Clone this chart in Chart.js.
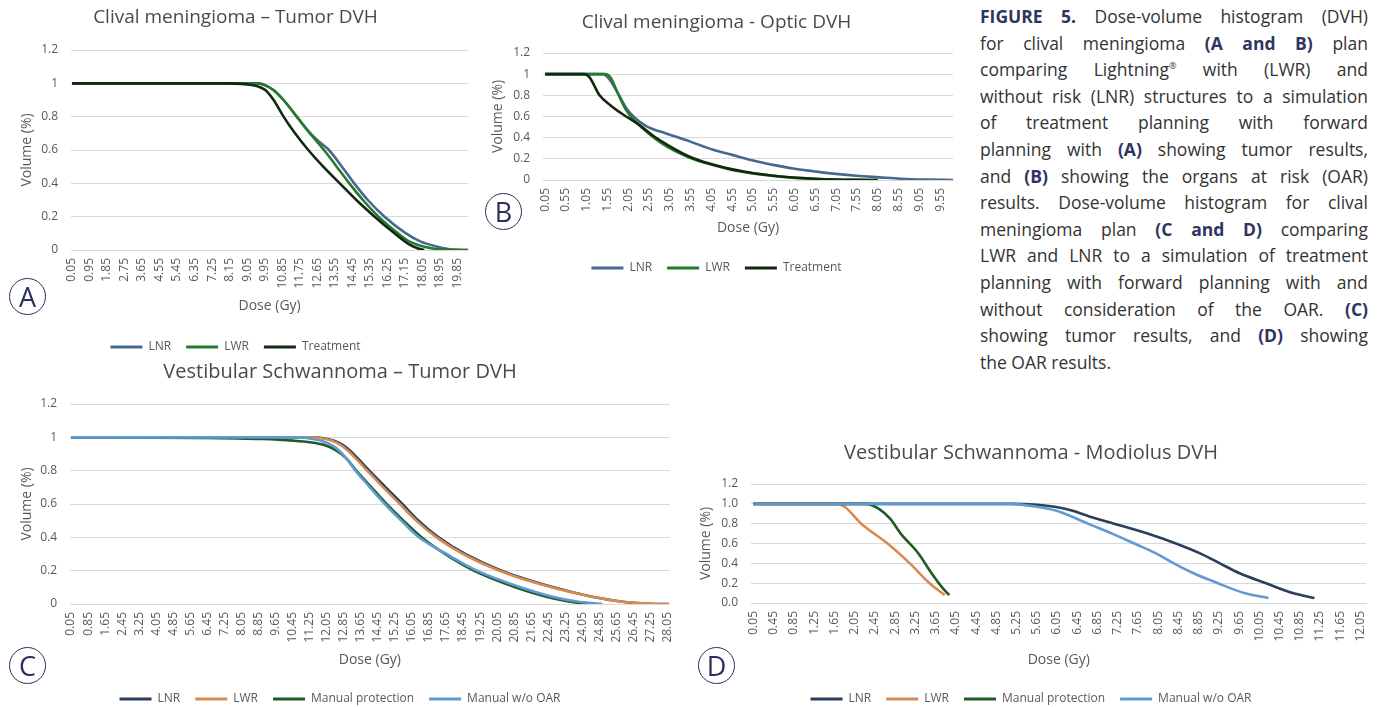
<!DOCTYPE html>
<html>
<head>
<meta charset="utf-8">
<title>Figure 5 - DVH</title>
<script src="https://cdn.jsdelivr.net/npm/chart.js@4.4.1/dist/chart.umd.min.js"></script>
<style>
  html, body { margin: 0; padding: 0; overflow: hidden; background: #fff; }
  body { position: relative; width: 1383px; height: 707px; }
  canvas { position: absolute; }
  .tag {
    position: absolute; width: 35px; height: 35px; border: 1.4px solid #2c2f5c; border-radius: 50%;
    color: #2c2f5c; font: 27px 'Open Sans', sans-serif; text-align: center; line-height: 35px;
  }
  .caption { position: absolute; left: 980px; top: 3px; width: 388px; font: 17.5px 'Open Sans', sans-serif; color: #333; }
  .caption div { white-space: nowrap; height: 26.6px; line-height: 26.6px; }
  .caption b { color: #2e3561; }
  .caption sup { font-size: 9px; line-height: 0; }
</style>
</head>
<body>
<canvas id="chartA" width="480" height="363" style="left:0;top:0"></canvas>
<canvas id="chartB" width="490" height="284" style="left:480px;top:0"></canvas>
<canvas id="chartC" width="690" height="365" style="left:0;top:350px"></canvas>
<canvas id="chartD" width="693" height="285" style="left:690px;top:430px"></canvas>

<div class="tag" style="left:9px;top:278px">A</div>
<div class="tag" style="left:485px;top:193px">B</div>
<div class="tag" style="left:9px;top:647px">C</div>
<div class="tag" style="left:698px;top:647px">D</div>

<div class="caption">
<div><span><b>FIGURE 5.</b> Dose-volume histogram (DVH)</span></div>
<div><span>for clival meningioma <b>(A and B)</b> plan</span></div>
<div><span>comparing Lightning<sup>®</sup> with (LWR) and</span></div>
<div><span>without risk (LNR) structures to a simulation</span></div>
<div><span>of treatment planning with forward</span></div>
<div><span>planning with <b>(A)</b> showing tumor results,</span></div>
<div><span>and <b>(B)</b> showing the organs at risk (OAR)</span></div>
<div><span>results. Dose-volume histogram for clival</span></div>
<div><span>meningioma plan <b>(C and D)</b> comparing</span></div>
<div><span>LWR and LNR to a simulation of treatment</span></div>
<div><span>planning with forward planning with and</span></div>
<div><span>without consideration of the OAR. <b>(C)</b></span></div>
<div><span>showing tumor results, and <b>(D)</b> showing</span></div>
<div><span>the OAR results.</span></div>
</div>

<script>
// tick labels of the dose axes
const doseTicksA = [0.05, 0.95, 1.85, 2.75, 3.65, 4.55, 5.45, 6.35, 7.25, 8.15, 9.05, 9.95, 10.85, 11.75,
  12.65, 13.55, 14.45, 15.35, 16.25, 17.15, 18.05, 18.95, 19.85];
const doseTicksB = [0.05, 0.55, 1.05, 1.55, 2.05, 2.55, 3.05, 3.55, 4.05, 4.55, 5.05, 5.55, 6.05, 6.55,
  7.05, 7.55, 8.05, 8.55, 9.05, 9.55];
const doseTicksC = [0.05, 0.85, 1.65, 2.45, 3.25, 4.05, 4.85, 5.65, 6.45, 7.25, 8.05, 8.85, 9.65, 10.45,
  11.25, 12.05, 12.85, 13.65, 14.45, 15.25, 16.05, 16.85, 17.65, 18.45, 19.25, 20.05, 20.85, 21.65,
  22.45, 23.25, 24.05, 24.85, 25.65, 26.45, 27.25, 28.05];
const doseTicksD = [0.05, 0.45, 0.85, 1.25, 1.65, 2.05, 2.45, 2.85, 3.25, 3.65, 4.05, 4.45, 4.85, 5.25,
  5.65, 6.05, 6.45, 6.85, 7.25, 7.65, 8.05, 8.45, 8.85, 9.25, 9.65, 10.05, 10.45, 10.85, 11.25, 11.65, 12.05];

// [dose (Gy), volume]
// A - clival meningioma, tumor
const clivalTumorLNR = [[0.05, 1], [9.5, 1], [9.85, 0.995], [10.4, 0.96], [10.92, 0.9], [11.6, 0.8], [12.25, 0.705],
  [12.75, 0.65], [13.25, 0.6], [13.92, 0.5], [14.55, 0.4], [15.25, 0.3], [16.11, 0.2], [17.21, 0.1],
  [17.97, 0.05], [18.83, 0.02], [19.68, 0.002], [20.4, 0]];
const clivalTumorLWR = [[0.05, 1], [9.5, 1], [9.85, 0.995], [10.4, 0.96], [10.92, 0.9], [11.6, 0.8], [12.28, 0.7],
  [13.0, 0.6], [13.65, 0.5], [14.3, 0.4], [15.0, 0.3], [15.8, 0.2], [16.8, 0.1], [17.4, 0.05], [18.15, 0.02],
  [19.17, 0.002], [20.4, 0]];
const clivalTumorTreatment = [[0.05, 1], [8.0, 1], [9.3, 0.99], [9.98, 0.96], [10.41, 0.9], [10.92, 0.8],
  [11.51, 0.7], [12.19, 0.6], [12.96, 0.5], [13.81, 0.4], [14.66, 0.3], [15.6, 0.2], [16.62, 0.1],
  [17.29, 0.04], [17.8, 0.01], [18.15, 0]];

// B - clival meningioma, optic apparatus
const clivalOpticLNR = [[0.05, 1], [1.45, 1], [1.6, 0.95], [1.8, 0.82], [2.0, 0.68], [2.2, 0.59], [2.48, 0.51],
  [2.96, 0.44], [3.53, 0.365], [4.09, 0.285], [4.57, 0.235], [5.05, 0.184], [5.53, 0.143], [6.02, 0.108],
  [6.5, 0.083], [6.98, 0.06], [7.54, 0.04], [8.1, 0.025], [8.6, 0.012], [9.2, 0.004], [9.86, 0]];
const clivalOpticLWR = [[0.05, 1], [1.5, 1], [1.62, 0.97], [1.8, 0.82], [2.0, 0.66], [2.2, 0.56], [2.45, 0.47],
  [2.7, 0.39], [3.0, 0.31], [3.5, 0.215], [4.0, 0.15], [4.5, 0.1], [5.0, 0.065], [5.5, 0.04], [6.0, 0.022],
  [6.5, 0.012], [7.0, 0.005], [7.5, 0.002], [8.05, 0]];
const clivalOpticTreatment = [[0.05, 1], [1.0, 1], [1.12, 0.97], [1.36, 0.8], [1.64, 0.7], [2.0, 0.6], [2.32, 0.52],
  [2.64, 0.42], [3.0, 0.33], [3.5, 0.225], [4.0, 0.155], [4.5, 0.105], [5.0, 0.068], [5.5, 0.042], [6.0, 0.023],
  [6.5, 0.012], [7.0, 0.005], [7.5, 0.002], [8.05, 0]];

// C - vestibular schwannoma, tumor
const schwannomaTumorLNR = [[0.05, 1], [11.4, 1], [11.9, 0.995], [12.4, 0.98], [12.8, 0.955], [13.15, 0.92],
  [13.5, 0.875], [14.05, 0.8], [14.82, 0.7], [15.6, 0.6], [16.36, 0.5], [17.3, 0.4], [18.55, 0.3],
  [20.25, 0.2], [22.7, 0.1], [24.45, 0.045], [25.6, 0.02], [26.6, 0.005], [27.4, 0], [28.1, 0]];
const schwannomaTumorLWR = [[0.05, 1], [11.3, 1], [11.8, 0.995], [12.3, 0.98], [12.7, 0.955], [13.05, 0.92],
  [13.4, 0.875], [13.95, 0.8], [14.7, 0.7], [15.48, 0.6], [16.25, 0.5], [17.2, 0.4], [18.45, 0.3],
  [20.15, 0.2], [22.6, 0.1], [24.45, 0.045], [25.6, 0.02], [26.7, 0.005], [27.6, 0], [28.1, 0]];
const schwannomaTumorManual = [[0.05, 1], [6.0, 0.997], [9.0, 0.99], [10.5, 0.98], [11.3, 0.97], [11.9, 0.955],
  [12.45, 0.925], [12.97, 0.874], [13.44, 0.8], [14.15, 0.7], [14.86, 0.6], [15.65, 0.5], [16.5, 0.4],
  [17.6, 0.3], [18.95, 0.2], [20.9, 0.1], [22.3, 0.045], [23.4, 0.015], [24.3, 0]];
const schwannomaTumorNoOar = [[0.05, 1], [10.8, 1], [11.4, 0.99], [11.9, 0.975], [12.45, 0.94], [12.97, 0.874],
  [13.4, 0.8], [14.08, 0.7], [14.78, 0.6], [15.55, 0.5], [16.38, 0.4], [17.67, 0.3], [19.1, 0.2],
  [21.15, 0.1], [22.6, 0.045], [23.8, 0.015], [25.0, 0]];

// D - vestibular schwannoma, modiolus
const modiolusLNR = [[0.05, 1], [5.2, 1], [5.66, 0.99], [6.0, 0.97], [6.36, 0.93], [6.7, 0.87], [7.18, 0.8],
  [7.84, 0.7], [8.4, 0.6], [8.88, 0.5], [9.27, 0.4], [9.66, 0.3], [10.18, 0.2], [10.71, 0.1], [11.14, 0.05]];
const modiolusLWR = [[0.05, 1], [1.7, 1], [1.85, 0.97], [2.18, 0.8], [2.7, 0.6], [3.14, 0.4], [3.53, 0.2], [3.83, 0.08]];
const modiolusManual = [[0.05, 1], [2.27, 1], [2.53, 0.95], [2.75, 0.85], [2.96, 0.7], [3.31, 0.5], [3.57, 0.3],
  [3.79, 0.15], [3.92, 0.08]];
const modiolusNoOar = [[0.05, 1], [5.1, 1], [5.66, 0.97], [6.1, 0.92], [6.66, 0.8], [7.14, 0.7], [7.58, 0.6],
  [8.01, 0.5], [8.36, 0.4], [8.75, 0.3], [9.23, 0.2], [9.75, 0.1], [10.23, 0.05]];

const GREY = '#595959';
Chart.defaults.font.family = "'Open Sans', sans-serif";
Chart.defaults.color = GREY;

function drawDvh(id, geo, ticks, series) {
  const legendPad = 15;
  const legendTop = geo.height - (22 + legendPad);
  const titleLine = geo.titleSize * 1.2;
  const axisSize = 14;
  const axisLine = axisSize * 1.2;

  new Chart(document.getElementById(id), {
    type: 'line',
    data: {
      datasets: series.map((s, i) => ({
        label: s.label,
        data: s.points.map(p => ({ x: p[0], y: p[1] })),
        borderColor: s.color,
        backgroundColor: s.color,
        borderWidth: 2.6,
        pointRadius: 0,
        cubicInterpolationMode: 'monotone',
        order: series.length - i   // later series drawn on top, like Excel
      }))
    },
    options: {
      responsive: false,
      animation: false,
      devicePixelRatio: 1,
      layout: { padding: { left: 0, top: 0, bottom: 0, right: geo.width - geo.plotRight } },
      plugins: {
        title: {
          display: true, text: geo.title, color: '#4a4a4a',
          font: { size: geo.titleSize, weight: 'normal' },
          padding: { top: geo.titleY - titleLine / 2, bottom: geo.plotTop - geo.titleY - titleLine / 2 }
        },
        legend: {
          position: 'bottom',
          reverse: true,
          labels: {
            boxWidth: 32, boxHeight: 3, padding: legendPad, color: GREY, font: { size: 12 },
            generateLabels: chart => Chart.defaults.plugins.legend.labels.generateLabels(chart)
              .map(item => Object.assign(item, { lineWidth: 0 }))
          }
        },
        tooltip: { enabled: false }
      },
      scales: {
        x: {
          type: 'linear', min: 0, max: geo.xMax,
          afterBuildTicks: scale => { scale.ticks = ticks.map(v => ({ value: v })); },
          afterFit: scale => { scale.height = legendTop - geo.plotBottom; },
          grid: { display: false, drawTicks: false },
          border: { color: '#d9d9d9' },
          ticks: {
            autoSkip: false, maxRotation: 90, minRotation: 90, padding: 8, color: GREY,
            font: { size: 12 }, callback: v => v.toFixed(2)
          },
          title: {
            display: true, text: 'Dose (Gy)', color: GREY, font: { size: axisSize },
            padding: { top: 0, bottom: legendTop - axisLine / 2 - geo.doseTitleY }
          }
        },
        y: {
          min: 0, max: 1.2,
          afterFit: scale => { scale.width = geo.plotLeft; },
          grid: { color: '#d9d9d9', drawTicks: false },
          border: { display: false },
          ticks: {
            stepSize: 0.2, padding: geo.plotLeft - geo.yLabelRight, color: GREY, font: { size: 12 },
            callback: v => geo.fixedY ? v.toFixed(1) : String(Math.round(v * 10) / 10)
          },
          title: {
            display: true, text: 'Volume (%)', color: GREY, font: { size: axisSize },
            padding: { top: geo.yTitleX - axisLine / 2, bottom: 0 }
          }
        }
      }
    }
  });
}

drawDvh('chartA', {
  title: 'Clival meningioma \u2013 Tumor DVH', titleSize: 19, width: 480, height: 363,
  plotLeft: 71, plotRight: 471, plotTop: 50, plotBottom: 250, titleY: 18,
  yLabelRight: 58, yTitleX: 27, doseTitleY: 306, xMax: 20.41
}, doseTicksA, [
  { label: 'LNR', color: '#46698f', points: clivalTumorLNR },
  { label: 'LWR', color: '#257a2c', points: clivalTumorLWR },
  { label: 'Treatment', color: '#10290f', points: clivalTumorTreatment }
]);

drawDvh('chartB', {
  title: 'Clival meningioma - Optic DVH', titleSize: 19, width: 490, height: 284,
  plotLeft: 63, plotRight: 473, plotTop: 53, plotBottom: 180, titleY: 23,
  yLabelRight: 50, yTitleX: 18, doseTitleY: 228, xMax: 9.86
}, doseTicksB, [
  { label: 'LNR', color: '#46698f', points: clivalOpticLNR },
  { label: 'LWR', color: '#257a2c', points: clivalOpticLWR },
  { label: 'Treatment', color: '#10290f', points: clivalOpticTreatment }
]);

drawDvh('chartC', {
  title: 'Vestibular Schwannoma \u2013 Tumor DVH', titleSize: 20, width: 690, height: 365,
  plotLeft: 70, plotRight: 680, plotTop: 54, plotBottom: 254, titleY: 22,
  yLabelRight: 57, yTitleX: 27, doseTitleY: 310, xMax: 28.15
}, doseTicksC, [
  { label: 'LNR', color: '#2a3f5c', points: schwannomaTumorLNR },
  { label: 'LWR', color: '#d98b4f', points: schwannomaTumorLWR },
  { label: 'Manual protection', color: '#1f5c24', points: schwannomaTumorManual },
  { label: 'Manual w/o OAR', color: '#5e9bd2', points: schwannomaTumorNoOar }
]);

drawDvh('chartD', {
  title: 'Vestibular Schwannoma - Modiolus DVH', titleSize: 20, width: 693, height: 285,
  plotLeft: 61, plotRight: 682, plotTop: 54, plotBottom: 173, titleY: 23,
  yLabelRight: 48, yTitleX: 16, doseTitleY: 230, xMax: 12.17, fixedY: true
}, doseTicksD, [
  { label: 'LNR', color: '#2a3f5c', points: modiolusLNR },
  { label: 'LWR', color: '#d98b4f', points: modiolusLWR },
  { label: 'Manual protection', color: '#1f5c24', points: modiolusManual },
  { label: 'Manual w/o OAR', color: '#5e9bd2', points: modiolusNoOar }
]);

// justify the caption line by line (last line left aligned); squeeze letters when spaces alone cannot
function justifyCaption() {
  const lines = document.querySelectorAll('.caption div');
  lines.forEach((line, i) => {
    if (i === lines.length - 1) return;
    line.style.wordSpacing = '0px';
    line.style.letterSpacing = '0px';
    const text = line.textContent;
    const spaces = (text.match(/ /g) || []).length;
    const slack = 388 - line.firstElementChild.getBoundingClientRect().width;
    let extra = slack / spaces;
    if (extra < -1.5) {
      extra = -1.5;
      line.style.letterSpacing = ((slack + 1.5 * spaces) / text.length) + 'px';
    }
    line.style.wordSpacing = extra + 'px';
  });
}
justifyCaption();
document.fonts.ready.then(justifyCaption);
</script>
</body>
</html>
